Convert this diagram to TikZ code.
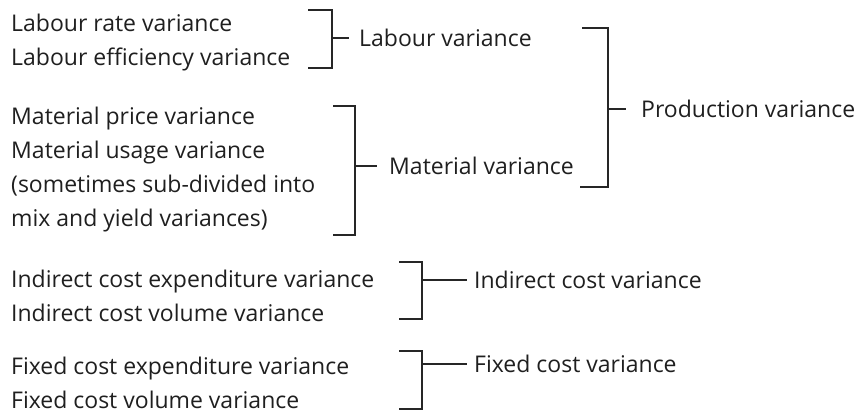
\documentclass[tikz,border=0pt]{standalone}
\usepackage{fontspec}
\setmainfont{Open Sans}
\begin{document}
\begin{tikzpicture}[x=1pt,y=-1pt,
  lbl/.style={anchor=west, inner sep=0pt, text height=16pt, text depth=0pt,
    font=\fontsize{23}{27}\selectfont, text=black!88},
  brk/.style={draw=black!85, line width=1.1pt},
  stub/.style={brk, shorten >=#1},
  stub/.default=10pt
]
\useasboundingbox (0,0) rectangle (857,418);

% component variances (left column)
\node[lbl] (lr) at (11,23)  {Labour rate variance};
\node[lbl] (le) at (11,57)  {Labour efficiency variance};
\node[lbl] (mp) at (11,116) {Material price variance};
\node[lbl] (mu) at (11,150) {Material usage variance};
\node[lbl] (ms) at (11,184) {(sometimes sub-divided into};
\node[lbl] (my) at (11,218) {mix and yield variances)};
\node[lbl] (ie) at (11,279) {Indirect cost expenditure variance};
\node[lbl] (iv) at (11,313) {Indirect cost volume variance};
\node[lbl] (fe) at (11,366) {Fixed cost expenditure variance};
\node[lbl] (fv) at (11,400) {Fixed cost volume variance};

% group totals
\node[lbl] (lab) at (359,38)  {Labour variance};
\node[lbl] (mat) at (389,166) {Material variance};
\node[lbl] (pro) at (641,109) {Production variance};
\node[lbl] (ind) at (474,280) {Indirect cost variance};
\node[lbl] (fix) at (474,364) {Fixed cost variance};

% labour bracket
\coordinate (labA) at (308,10);
\coordinate (labB) at (332,10);
\coordinate (labC) at (332,68);
\coordinate (labD) at (308,68);
\draw[brk] (labA) -- (labB) -- (labC) -- (labD);
\draw[stub] (labB |- lab.west) -- (lab.west);

% material bracket
\coordinate (matA) at (333,106);
\coordinate (matB) at (355,106);
\coordinate (matC) at (355,235);
\coordinate (matD) at (333,235);
\draw[brk] (matA) -- (matB) -- (matC) -- (matD);
\draw[stub=12pt] (matB |- mat.west) -- (mat.west);

% production bracket
\coordinate (proA) at (582,28);
\coordinate (proB) at (608,28);
\coordinate (proC) at (608,187);
\coordinate (proD) at (580,187);
\draw[brk] (proA) -- (proB) -- (proC) -- (proD);
\draw[stub=15pt] (proB |- pro.west) -- (pro.west);

% indirect cost bracket
\coordinate (indA) at (399,262);
\coordinate (indB) at (422,262);
\coordinate (indC) at (422,319);
\coordinate (indD) at (399,319);
\draw[brk] (indA) -- (indB) -- (indC) -- (indD);
\draw[stub=7pt] (indB |- ind.west) -- (ind.west);

% fixed cost bracket
\coordinate (fixA) at (399,351);
\coordinate (fixB) at (422,351);
\coordinate (fixC) at (422,409);
\coordinate (fixD) at (399,409);
\draw[brk] (fixA) -- (fixB) -- (fixC) -- (fixD);
\draw[stub=7pt] (fixB |- fix.west) -- (fix.west);
\end{tikzpicture}
\end{document}
